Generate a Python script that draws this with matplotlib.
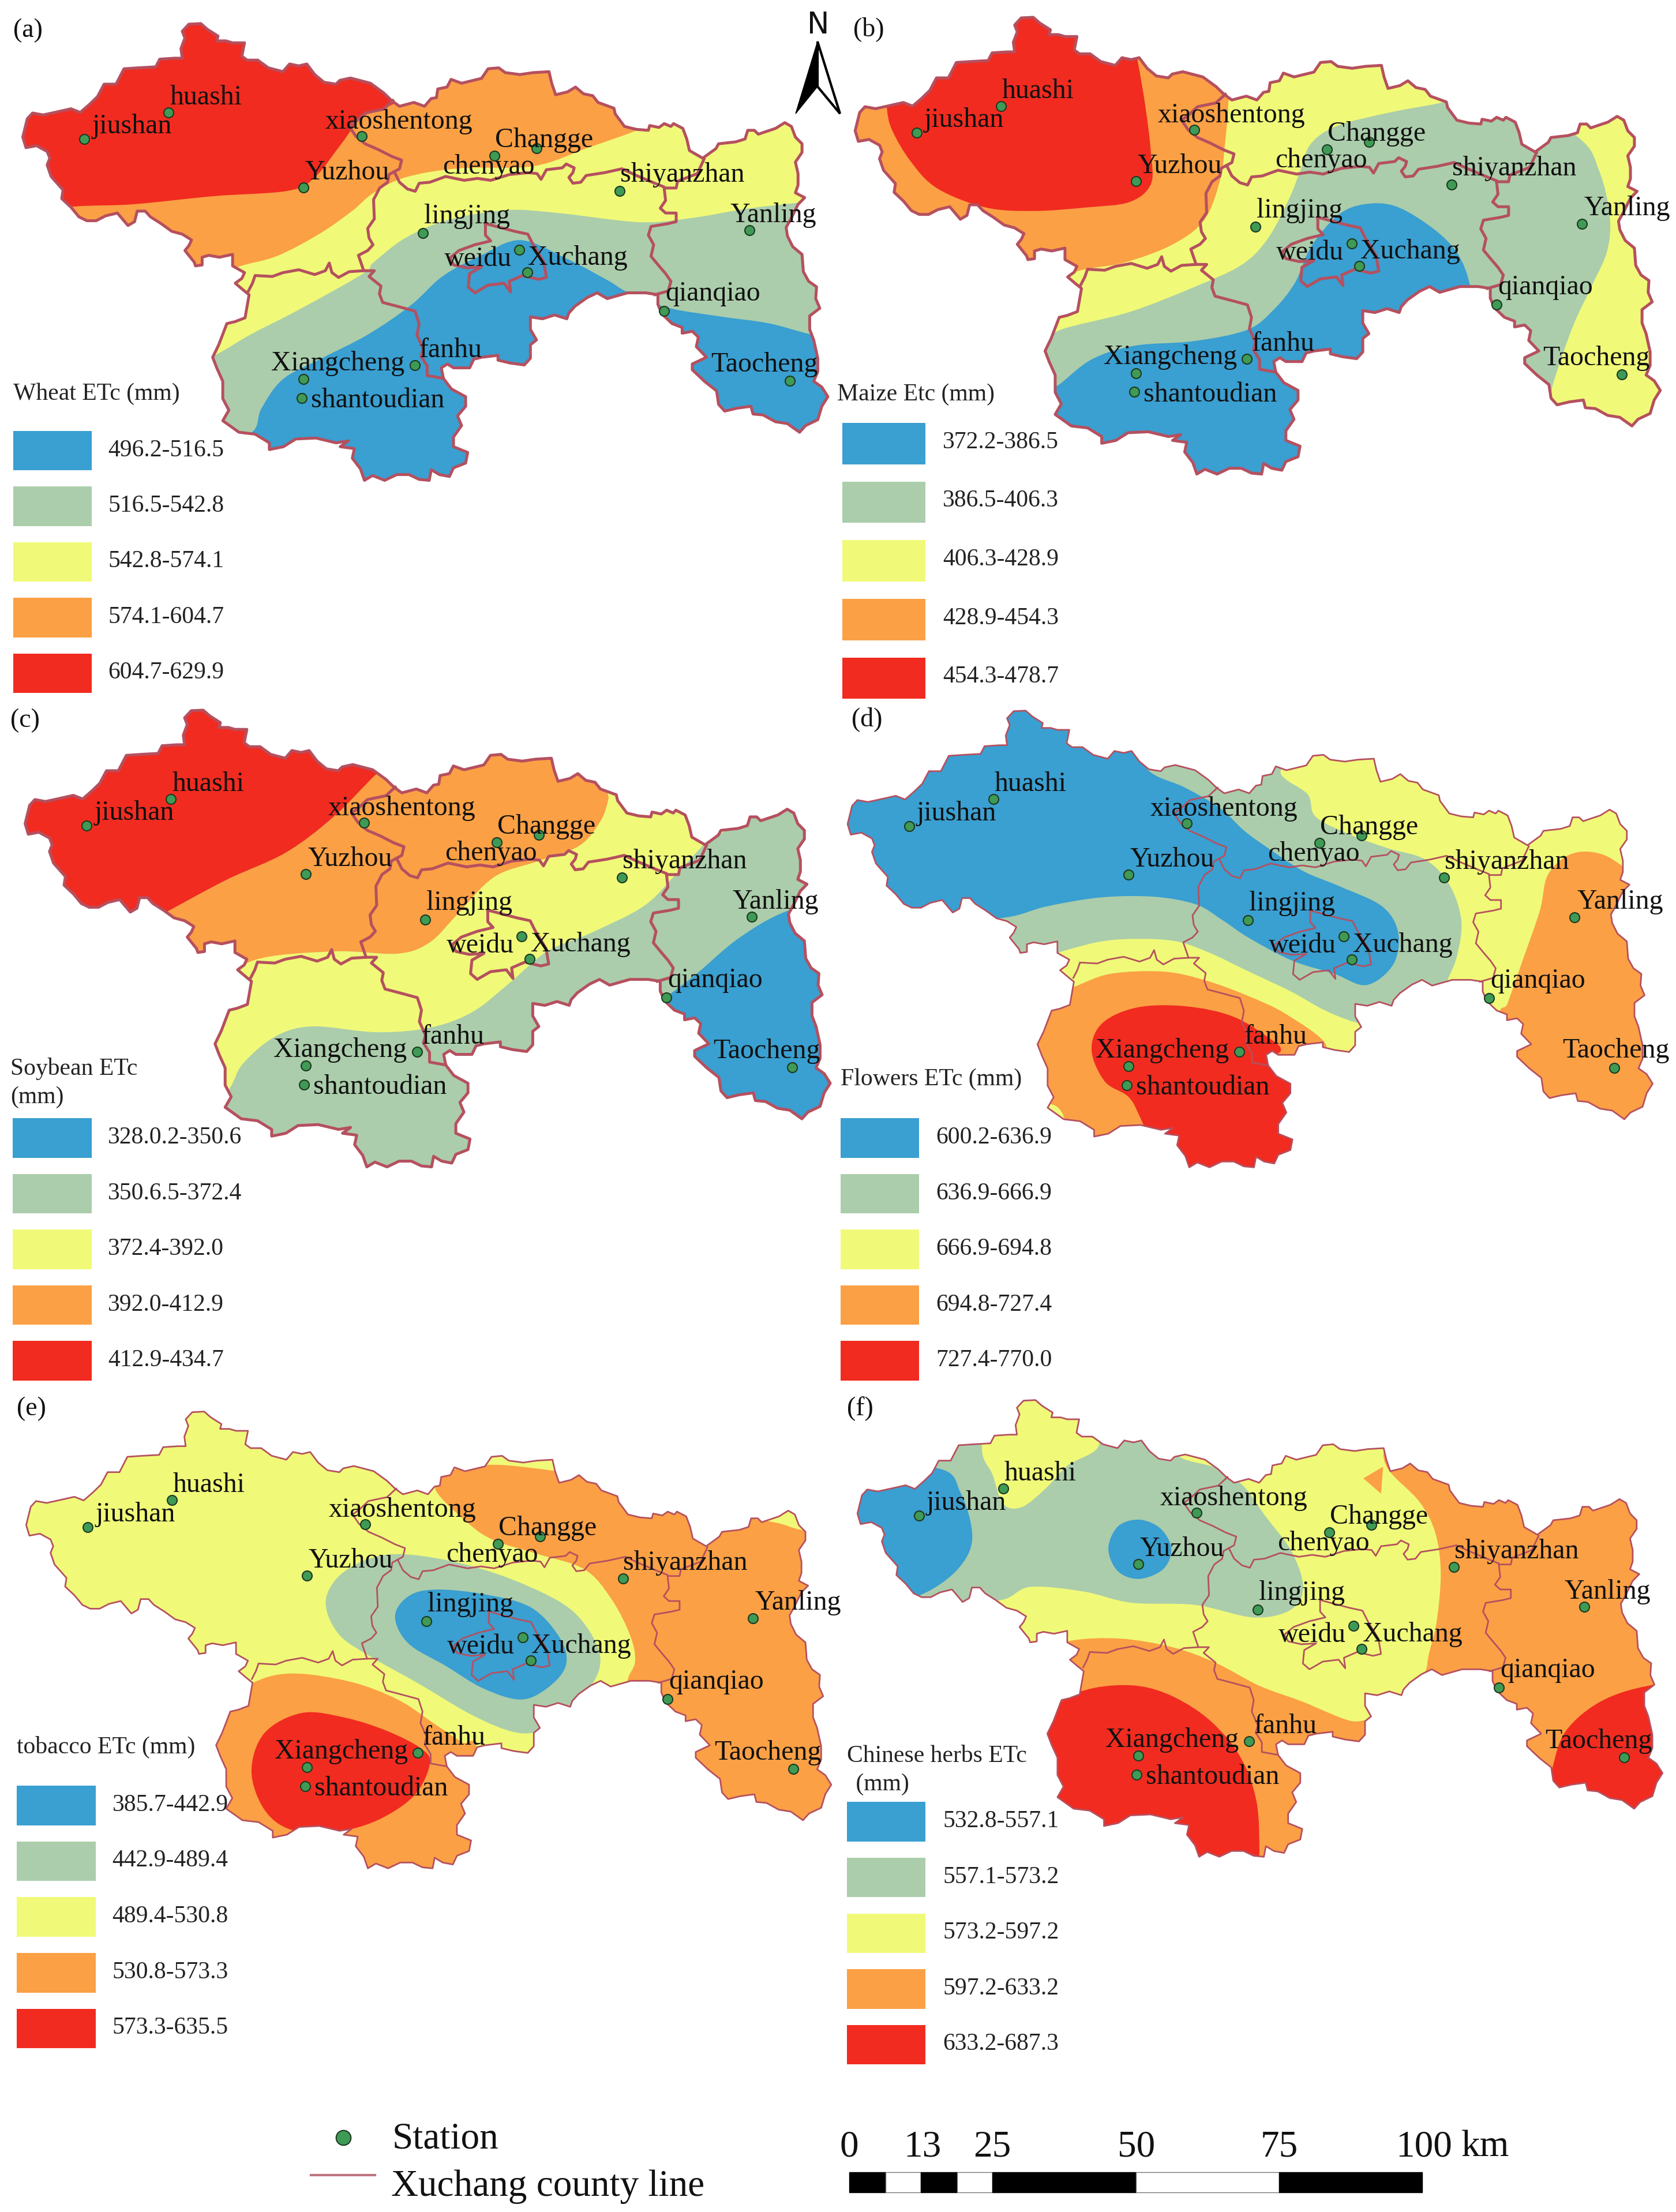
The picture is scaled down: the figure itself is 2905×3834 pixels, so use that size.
import matplotlib
matplotlib.use('Agg')
import numpy as np
import matplotlib.pyplot as plt
from matplotlib.path import Path
from matplotlib.patches import PathPatch, Polygon, Rectangle

plt.rcParams['font.family'] = ['Liberation Serif', 'DejaVu Serif']

W, H = 2905, 3834
BLUE, GREEN, YELLOW, ORANGE, RED = '#3A9FD1', '#ABCDAB', '#F0FA78', '#FBA045', '#F12B20'
CLASS_COLORS = [BLUE, GREEN, YELLOW, ORANGE, RED]
LINE = '#B5505F'
STATION = '#3F9A55'

CROP_W, CROP_H = 1450, 1220
ZOOM = 1568  # panel coordinates run 0..1568 both ways


def to_panel(pts, ox, oy, sx, sy):
    # traced on a closer look at panel (e), brought back to panel units
    pts = np.array(pts, dtype=float)
    x = (ox + pts[:, 0] / sx - 5) * ZOOM / CROP_W - 1
    y = (oy + pts[:, 1] / sy - 2405) * ZOOM / CROP_H - 1
    return np.column_stack([x, y])


# boundary traces, clockwise, in three views
A = (5, 2435, 1568 / 720, 3)
B = (705, 2500, 1568 / 720, 3)
C = (350, 2880, 1568 / 1100, 3)

west_top = [(88,625),(105,530),(125,500),(165,510),(215,495),(270,478),(305,497),(340,455),(370,415),(395,350),(440,350),
            (470,270),(525,265),(590,260),(605,220),(660,215),(690,215),(685,165),(700,110),(690,75),(715,38),(760,35),
            (785,65),(825,100),(820,125),(855,125),(880,135),(925,135),(915,205),(935,225),(975,225),(1015,265),
            (1070,285),(1095,245),(1130,255),(1160,245),(1190,300),(1225,340),(1270,350),(1285,330),(1325,318),
            (1400,345),(1450,395),(1480,435),(1510,465)]
north_east = [(40,250),(80,270),(105,230),(125,225),(130,180),(165,170),(180,130),(220,150),(295,125),(320,75),(360,70),
              (385,95),(440,105),(490,95),(550,90),(560,150),(575,210),(620,195),(650,170),(680,205),(715,215),(735,250),
              (795,280),(800,310),(835,375),(880,390),(925,395),(930,370),(965,380),(985,360),(1010,375),(1020,360),
              (1055,385),(1070,440),(1080,500),(1130,540),(1180,490),(1190,465),(1255,455),(1290,440),(1300,395),
              (1325,395),(1340,415),(1405,385),(1440,355),(1465,375),(1480,430),(1505,465),(1505,510),(1480,560),
              (1490,620),(1490,680),(1480,720),(1515,745),(1490,780),(1465,850),(1445,900),(1450,945),(1470,1000),
              (1505,1040),(1510,1130),(1530,1180)]
south = [(1527,69),(1525,130),(1535,180),(1510,220),(1510,290),(1520,345),(1530,440),(1530,510),(1520,560),(1540,590),
         (1555,640),(1540,690),(1530,760),(1500,790),(1485,825),(1455,780),(1425,770),(1395,735),(1370,730),(1365,690),
         (1330,700),(1300,715),(1285,680),(1280,610),(1250,560),(1220,500),(1220,470),(1255,435),(1230,380),(1235,330),
         (1220,300),(1195,310),(1195,280),(1170,260),(1145,210),(1135,160),(1135,110),(1105,100),(1060,100),(1010,130),
         (985,100),(960,125),(930,170),(915,205),(910,235),(880,215),(850,235),(820,225),(820,290),(835,345),(820,370),
         (820,440),(805,475),(770,465),(740,450),(740,425),(700,435),(680,445),(670,490),(630,490),(615,470),(600,490),
         (605,545),(625,600),(660,640),(660,690),(640,740),(650,790),(630,850),(630,900),(665,930),(660,985),(630,1010),
         (620,1055),(595,1045),(575,1020),(570,1075),(545,1070),(520,1045),(490,1045),(460,1075),(430,1050),(410,1075),
         (400,1015),(380,960),(385,910),(350,900),(370,870),(340,880),(290,855),(240,860),(210,900),(175,915),(175,880),
         (140,835),(100,825),(60,765),(75,710),(60,650),(60,560),(45,490),(35,435),(50,370),(70,260),(90,250),(115,230),
         (125,110)]
west_south = [(920,1420),(890,1385),(915,1360),(925,1330),(880,1295),(880,1235),(830,1250),(790,1240),(765,1250),(765,1290),
              (740,1295),(735,1275),(700,1215),(715,1190),(725,1160),(690,1130),(650,1115),(610,1075),(570,1040),(550,1010),
              (520,1010),(510,1065),(485,1085),(445,1020),(400,1035),(365,1060),(330,1060),(300,1040),(270,990),(235,945),
              (240,900),(195,830),(180,770),(190,735),(180,700),(140,670),(100,680)]
outline = np.vstack([to_panel(west_top, *A), to_panel(north_east, *B), to_panel(south, *C), to_panel(west_south, *A)])

county_lines = [
    to_panel([(1485,435),(1450,480),(1380,500),(1345,545),(1320,570),(1345,620),(1380,660),(1430,690),(1480,725),(1518,745),
              (1510,790),(1490,805),(1470,820),(1465,860),(1435,890),(1420,930),(1412,950),(1415,1050),(1390,1100),
              (1395,1150),(1410,1185),(1390,1215),(1355,1240),(1375,1320),(1320,1325),(1280,1355),(1255,1330),(1245,1280),
              (1230,1320),(1190,1340),(1130,1315),(1070,1330),(1030,1350),(965,1345),(955,1385),(940,1425)], *A),
    np.vstack([to_panel([(1490,805),(1510,860),(1540,895)], *A),
               to_panel([(45,712),(60,670),(100,665),(160,635),(230,655),(280,645),(330,655),(400,625),(470,615),(505,620),
                         (520,650),(540,600),(600,590),(615,570),(645,590),(640,615),(625,640),(640,670),(670,665),(690,630),
                         (760,615),(825,595),(880,630),(940,665),(985,690),(985,700),(990,760),(970,800),(990,825),(1030,825),
                         (1030,870),(1000,880),(935,895),(925,940),(945,990),(935,1050),(965,1100),(990,1140),(1010,1180),
                         (1000,1230),(950,1250)], *B)]),
    to_panel([(985,695),(1030,695),(1035,660),(1110,620),(1135,545)], *B),
    np.vstack([to_panel([(1375,1320),(1415,1320),(1395,1350),(1440,1400)], *A),
               to_panel([(447,105),(455,150),(500,175),(535,195),(545,260),(540,320),(555,390),(550,430),(565,480),(565,530),
                         (605,545)], *C)]),
    to_panel([(310,880),(420,920),(470,935),(490,990),(530,1080),(540,1160),(510,1170),(450,1150),(400,1180),(405,1235),
              (380,1190),(320,1200),(270,1240),(245,1210),(250,1140),(295,1105),(240,1110),(190,1095),(175,1060),(210,1020),
              (270,990),(330,970),(310,940),(310,880)], *B),
]

station_names = ['jiushan', 'huashi', 'xiaoshentong', 'Changge', 'chenyao', 'Yuzhou', 'shiyanzhan', 'lingjing',
                 'weidu', 'Xuchang', 'Yanling', 'qianqiao', 'Taocheng', 'fanhu', 'Xiangcheng', 'shantoudian']
station_x = [158, 316, 678, 1006, 927, 569, 1161, 793, 973, 988, 1405, 1245, 1480, 777, 569, 566]
station_y = [310, 250, 303, 330, 347, 418, 425, 519, 556, 607, 513, 693, 848, 813, 845, 887]
label_x = [172, 318, 610, 928, 830, 572, 1162, 795, 832, 990, 1368, 1247, 1332, 786, 508, 583]
label_y = [297, 232, 287, 328, 387, 400, 405, 498, 592, 590, 495, 670, 828, 795, 825, 908]

# class regions per panel, painted in order over the base colour
bands_a = [
    (GREEN, [(380,1000),(470,965),(490,910),(530,845),(600,800),(690,745),(770,680),(830,615),(900,570),(975,535),
             (1060,575),(1140,625),(1175,650),(1250,685),(1350,705),(1440,720),(1520,745),(1620,770),(1620,0),(300,0)]),
    (YELLOW, [(330,830),(405,790),(470,745),(560,690),(680,610),(700,585),(760,530),(840,490),(950,468),(1050,475),
              (1200,495),(1300,485),(1400,465),(1510,450),(1620,440),(1620,0),(300,0)]),
    (ORANGE, [(380,630),(445,595),(520,570),(600,520),(660,470),(700,430),(760,395),(860,375),(1000,370),(1100,330),
              (1195,290),(1300,240),(1200,0),(100,0),(100,450)]),
    (RED, [(50,475),(140,460),(250,455),(400,437),(540,425),(590,395),(640,320),(680,260),(740,230),(800,180),(500,0),
           (0,0),(0,400)]),
]
bands_b = [
    (GREEN, [(340,800),(400,770),(430,735),(560,695),(680,640),(770,590),(820,530),(860,440),(880,380),(900,320),
             (950,280),(1050,250),(1140,230),(1250,200),(1400,305),(1440,380),(1460,480),(1455,560),(1425,640),
             (1390,730),(1355,850),(1340,920),(1300,950),(1100,1000),(400,1000)]),
    (BLUE, [(380,900),(430,855),(490,800),(570,770),(680,760),(780,735),(830,690),(870,630),(900,550),(950,480),
            (1000,455),(1060,460),(1130,510),(1175,565),(1198,635),(1200,700),(1100,1100),(400,1100)]),
    (ORANGE, [(380,650),(460,605),(550,585),(640,545),(700,490),(730,400),(738,330),(745,230),(740,150),(300,0),
              (0,200),(0,500),(200,600)]),
    (RED, [(105,240),(115,290),(150,360),(200,420),(290,462),(380,470),(480,462),(560,450),(600,410),(600,340),(590,240),
           (575,135),(560,60),(300,0),(100,150)]),
]
bands_c = [
    (BLUE, [(1200,730),(1245,690),(1300,640),(1380,560),(1470,500),(1600,460),(1640,1000),(1300,1020)]),
    (ORANGE, [(280,520),(310,500),(420,430),(530,370),(620,290),(700,195),(800,100),(1140,100),(1140,245),(1120,300),
              (1080,355),(1000,390),(920,425),(850,510),(800,570),(740,595),(620,590),(470,610),(430,650),(350,600)]),
    (YELLOW, [(380,960),(425,895),(450,840),(510,780),(580,757),(700,770),(800,760),(880,725),(950,660),(1020,590),
              (1100,550),(1200,490),(1260,420),(1315,350),(1360,290),(1140,200),(1135,250),(1120,300),(1080,355),
              (1000,390),(920,425),(850,510),(800,570),(740,595),(620,590),(470,610),(400,680),(360,800)]),
    (RED, [(280,520),(310,500),(420,430),(530,370),(620,290),(700,195),(750,150),(400,0),(0,200),(0,500),(200,540)]),
]
bands_d = [
    (GREEN, [(860,195),(910,240),(925,290),(990,330),(1060,360),(1130,385),(1175,440),(1198,520),(1190,600),(1170,660),
             (1150,720),(1060,760),(1000,748),(940,720),(880,680),(800,635),(720,590),(650,565),(540,565),(450,590),
             (380,620),(300,520),(300,300),(600,100),(860,130)]),
    (BLUE, [(340,515),(420,490),(520,470),(620,468),(700,485),(750,520),(800,560),(880,610),(960,640),(1020,665),
            (1070,620),(1080,550),(1050,490),(970,445),(900,410),(830,355),(790,320),(745,270),(680,225),(610,185),
            (580,100),(300,0),(0,200),(0,450),(200,520)]),
    (ORANGE, [(1270,750),(1285,705),(1310,620),(1345,500),(1360,420),(1400,375),(1450,370),(1500,400),(1600,500),
              (1640,1000),(1300,1020)]),
    (ORANGE, [(400,700),(470,670),(540,640),(640,635),(720,655),(800,690),(870,730),(945,800),(900,850),(850,1100),
              (500,1100),(450,950),(410,915),(380,800)]),
    (RED, [(505,810),(525,750),(590,715),(680,712),(770,735),(840,785),(860,810),(840,840),(900,900),(900,1100),
           (650,1100),(600,970),(575,915),(530,880)]),
]
bands_e = [
    (GREEN, [(605,480),(630,420),(690,380),(760,372),(870,395),(980,440),(1070,500),(1118,590),(1105,660),(1050,720),
             (1010,762),(960,768),(880,730),(780,660),(690,600),(630,550)]),
    (BLUE, [(735,510),(760,465),(810,450),(900,460),(990,490),(1045,560),(1055,620),(1020,670),(970,695),(900,670),
            (830,620),(760,570)]),
    (ORANGE, [(810,225),(870,300),(920,340),(1000,370),(1090,405),(1140,470),(1175,550),(1185,610),(1170,670),(1200,800),
              (1250,1000),(1650,1000),(1650,350),(1500,318),(1445,300),(1300,270),(1100,200),(1030,185),(920,172),
              (840,185)]),
    (ORANGE, [(400,720),(465,660),(540,637),(650,655),(740,695),(810,750),(860,790),(890,815),(900,1100),(400,1100),
              (380,800)]),
    (RED, [(466,855),(490,770),(560,725),(640,735),(720,765),(785,805),(800,840),(770,910),(700,965),(620,990),
           (540,985),(490,940)]),
]
bands_f = [
    (GREEN, [(170,495),(310,500),(370,470),(470,480),(560,505),(680,510),(790,538),(860,520),(882,470),(860,390),
             (810,310),(770,245),(720,205),(650,180),(600,120),(100,100),(60,350)]),
    (YELLOW, [(280,160),(300,220),(320,285),(355,292),(400,250),(440,200),(500,150),(450,50),(300,30)]),
    (BLUE, [(195,205),(240,260),(262,360),(235,430),(170,485),(100,500),(0,400),(0,200)]),
    (BLUE, [(517,385),(535,335),(575,320),(615,340),(635,385),(620,430),(575,452),(535,435)]),
    (ORANGE, [(1040,205),(1100,280),(1130,350),(1140,440),(1132,550),(1115,640),(1120,720),(1250,1000),(1650,1000),
              (1650,200),(1100,100),(1040,150)]),
    (ORANGE, [(995,228),(1032,202),(1028,262)]),
    (ORANGE, [(380,620),(445,590),(540,585),(640,605),(720,640),(800,690),(880,725),(970,768),(1030,772),(1020,900),
              (900,1100),(400,1100),(380,800)]),
    (RED, [(400,790),(430,725),(490,695),(570,690),(640,715),(710,770),(765,850),(795,950),(800,1070),(795,1120),
           (500,1100),(370,950),(370,820)]),
    (RED, [(1350,870),(1375,790),(1440,725),(1530,690),(1650,680),(1650,1050),(1360,1000),(1345,920)]),
]

# panel tag, crop origin in pixels, shift of the map inside the crop, base colour
panels = [
    dict(tag='(a)', tag_xy=(25,82), crop=(0,0), shift=(0,0), base=BLUE, bands=bands_a, lw=3.6,
         title=[('Wheat ETc (mm)',25,890)], sw=(25,172,960,124,88), lab_x=203,
         labels=['496.2-516.5','516.5-542.8','542.8-574.1','574.1-604.7','604.7-629.9'], moved={}),
    dict(tag='(b)', tag_xy=(42,80), crop=(1440,0), shift=(3,-14), base=YELLOW, bands=bands_b, lw=3.6,
         title=[('Maize Etc (mm)',12,892)], sw=(22,177,942,130.7,92), lab_x=210,
         labels=['372.2-386.5','386.5-406.3','406.3-428.9','428.9-454.3','454.3-478.7'],
         moved={'Yanling':(1412,480)}),
    dict(tag='(c)', tag_xy=(14,90), crop=(5,1190), shift=(-1,0), base=GREEN, bands=bands_c, lw=3.6,
         title=[('Soybean ETc',14,865),('(mm)',14,928)], sw=(18,167,962,124,88), lab_x=197,
         labels=['328.0.2-350.6','350.6.5-372.4','372.4-392.0','392.0-412.9','412.9-434.7'], moved={}),
    dict(tag='(d)', tag_xy=(55,88), crop=(1425,1190), shift=(5,1), base=YELLOW, bands=bands_d, lw=2.0,
         title=[('Flowers ETc (mm)',35,888)], sw=(35,182,962,124,88), lab_x=213,
         labels=['600.2-636.9','636.9-666.9','666.9-694.8','694.8-727.4','727.4-770.0'],
         moved={'Yanling':(1415,495),'Taocheng':(1388,827)}),
    dict(tag='(e)', tag_xy=(26,62), crop=(5,2405), shift=(1,1), base=YELLOW, bands=bands_e, lw=2.0,
         title=[('tobacco ETc (mm)',26,815)], sw=(26,174,887,124.2,88), lab_x=205,
         labels=['385.7-442.9','442.9-489.4','489.4-530.8','530.8-573.3','573.3-635.5'],
         moved={'Yanling':(1410,495)}),
    dict(tag='(f)', tag_xy=(27,88), crop=(1443,2385), shift=(4,1), base=YELLOW, bands=bands_f, lw=2.0,
         title=[('Chinese herbs ETc',27,860),(' (mm)',32,923)], sw=(27,174,949,124.2,88), lab_x=207,
         labels=['532.8-557.1','557.1-573.2','573.2-597.2','597.2-633.2','633.2-687.3'], moved={}),
]


def smooth_path(pts):
    # closed curve through the points
    pts = np.array(pts, dtype=float)
    n = len(pts)
    if n < 4:
        return Path(np.vstack([pts, pts[0]]), closed=True)
    verts = [pts[0]]
    codes = [Path.MOVETO]
    for i in range(n):
        p0, p1, p2, p3 = pts[i-1], pts[i], pts[(i+1) % n], pts[(i+2) % n]
        verts += [p1 + (p2 - p0) / 6, p2 - (p3 - p1) / 6, p2]
        codes += [Path.CURVE4] * 3
    return Path(verts, codes)


fig = plt.figure(figsize=(W / 100, H / 100), dpi=100, facecolor='white')

for p in panels:
    cx, cy = p['crop']
    ax = fig.add_axes([cx / W, 1 - (cy + CROP_H) / H, CROP_W / W, CROP_H / H])
    ax.set_xlim(0, ZOOM)
    ax.set_ylim(ZOOM, 0)
    ax.axis('off')
    ax.patch.set_alpha(0)
    dx, dy = p['shift']

    shape = outline + [dx, dy]
    base = Polygon(shape, closed=True, facecolor=p['base'], edgecolor='none', zorder=1)
    ax.add_patch(base)
    for color, pts in p['bands']:
        patch = PathPatch(smooth_path(pts), facecolor=color, edgecolor='none', zorder=2)
        ax.add_patch(patch)
        patch.set_clip_path(base)

    for line in county_lines:
        ax.plot(line[:, 0] + dx, line[:, 1] + dy, color=LINE, lw=p['lw'], solid_joinstyle='round', zorder=3)
    ax.add_patch(Polygon(shape, closed=True, facecolor='none', edgecolor=LINE, lw=p['lw'],
                         joinstyle='round', zorder=4))

    ax.scatter(np.array(station_x) + dx, np.array(station_y) + dy, s=150, color=STATION,
               edgecolors='#1c3a20', linewidths=1.5, zorder=5)
    for name, lx, ly in zip(station_names, label_x, label_y):
        tx, ty = p['moved'].get(name, (lx + dx, ly + dy))
        ax.text(tx, ty, name, fontsize=34.5, color='#111111', ha='left', va='baseline', zorder=6)

    ax.text(p['tag_xy'][0], p['tag_xy'][1], p['tag'], fontsize=33, color='#111111', ha='left', va='baseline', zorder=6)
    for txt, tx, ty in p['title']:
        ax.text(tx, ty, txt, fontsize=30, color='#222222', ha='left', va='baseline', zorder=6)

    x0, x1, top, step, hgt = p['sw']
    for i, (color, lab) in enumerate(zip(CLASS_COLORS, p['labels'])):
        y = top + i * step
        ax.add_patch(Rectangle((x0, y), x1 - x0, hgt, facecolor=color, edgecolor='none', zorder=6))
        ax.text(p['lab_x'], y + 56, lab, fontsize=30, color='#222222', ha='left', va='baseline', zorder=6)

# north arrow, bottom legend, scale bar: plain pixel coordinates
top = fig.add_axes([0, 0, 1, 1])
top.set_xlim(0, W)
top.set_ylim(H, 0)
top.axis('off')
top.patch.set_alpha(0)

top.text(1418, 58, 'N', fontsize=37, family='DejaVu Sans', ha='center', va='baseline', color='#111111')
top.add_patch(Polygon([(1417,72),(1417,150),(1379,197)], closed=True, facecolor='black', edgecolor='black', lw=1))
top.add_patch(Polygon([(1417,72),(1456,197),(1417,150)], closed=True, facecolor='white', edgecolor='black', lw=3))

top.scatter([595], [3705], s=340, color='#3F9A55', edgecolors='#1c3a20', linewidths=1.5)
top.text(680, 3724, 'Station', fontsize=47, color='#111111', ha='left', va='baseline')
top.plot([539, 650], [3770, 3770], color='#BE7583', lw=3)
top.text(678, 3806, 'Xuchang county line', fontsize=47, color='#111111', ha='left', va='baseline')

scale_edges = [1472, 1535, 1596, 1659, 1720, 1969, 2217, 2465]
scale_ticks = ['0', '13', '25', '50', '75', '100']
scale_tick_x = [1472, 1599, 1720, 1970, 2217, 2468]
for i in range(len(scale_edges) - 1):
    color = 'black' if i % 2 == 0 else 'white'
    top.add_patch(Rectangle((scale_edges[i], 3765), scale_edges[i+1] - scale_edges[i], 35, facecolor=color,
                            edgecolor='#777777' if i % 2 else 'black', lw=1))
for t, x in zip(scale_ticks, scale_tick_x):
    top.text(x, 3737, t, fontsize=47, color='#111111', ha='center', va='baseline')
top.text(2533, 3737, 'km', fontsize=47, color='#111111', ha='left', va='baseline')

fig.savefig('out.png', dpi=100, facecolor='white')
plt.close(fig)
